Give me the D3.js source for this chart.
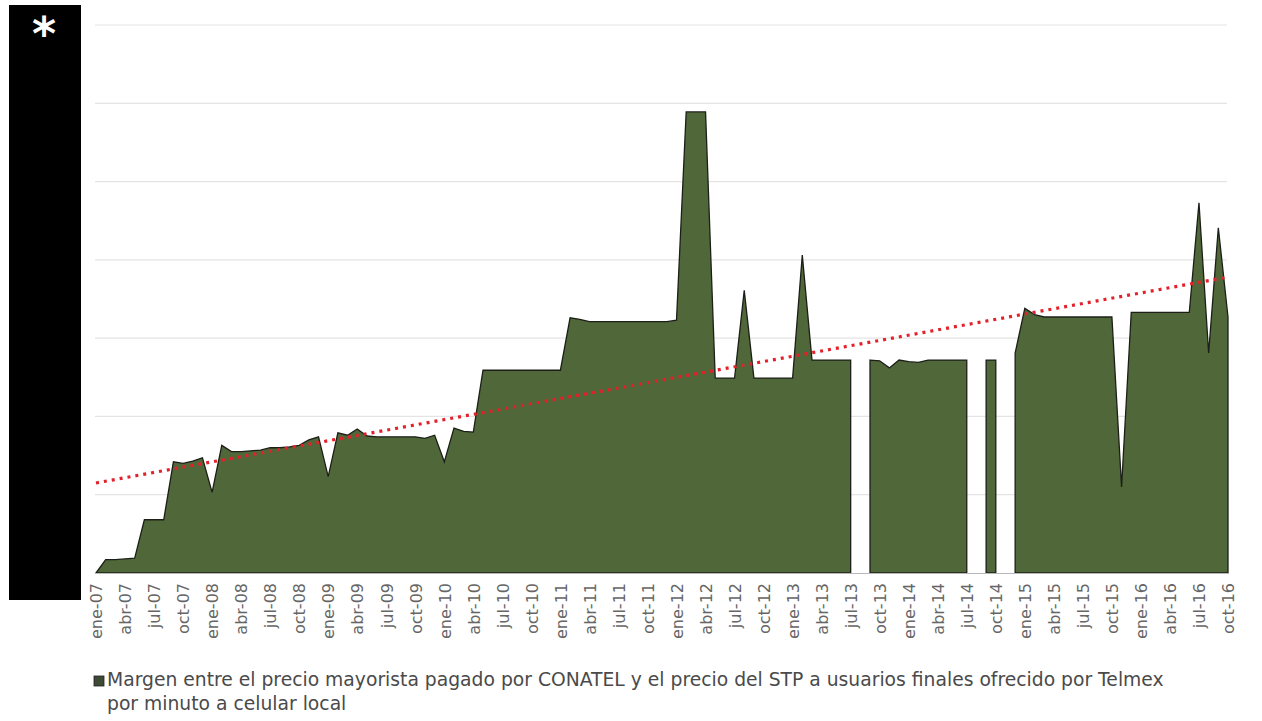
<!DOCTYPE html>
<html><head><meta charset="utf-8">
<script src="https://cdn.jsdelivr.net/npm/d3@7/dist/d3.min.js"></script>
<style>
html,body{margin:0;padding:0;background:#fff;}
svg{display:block;}
</style></head>
<body>
<svg id="chart" width="1262" height="721"></svg>
<script>
// ---- data ----
const monthNames = ["ene","feb","mar","abr","may","jun","jul","ago","sep","oct","nov","dic"];
const yearNames = ["07","08","09","10","11","12","13","14","15","16"];
const values2007 = [0, 0.017, 0.017, 0.018, 0.019, 0.068, 0.068, 0.068, 0.142, 0.140, 0.143, 0.147];
const values2008 = [0.103, 0.163, 0.155, 0.155, 0.156, 0.157, 0.160, 0.160, 0.161, 0.163, 0.170, 0.174];
const values2009 = [0.123, 0.179, 0.176, 0.184, 0.175, 0.174, 0.174, 0.174, 0.174, 0.174, 0.172, 0.176];
const values2010 = [0.142, 0.185, 0.181, 0.180, 0.259, 0.259, 0.259, 0.259, 0.259, 0.259, 0.259, 0.259];
const values2011 = [0.259, 0.326, 0.324, 0.321, 0.321, 0.321, 0.321, 0.321, 0.321, 0.321, 0.321, 0.321];
const values2012 = [0.323, 0.589, 0.589, 0.589, 0.249, 0.249, 0.249, 0.361, 0.249, 0.249, 0.249, 0.249];
const values2013 = [0.249, 0.406, 0.272, 0.272, 0.272, 0.272, 0.272, null, 0.272, 0.271, 0.262, 0.272];
const values2014 = [0.270, 0.269, 0.272, 0.272, 0.272, 0.272, 0.272, null, 0.272, 0.272, null, 0.281];
const values2015 = [0.338, 0.330, 0.327, 0.327, 0.327, 0.327, 0.327, 0.327, 0.327, 0.327, 0.110, 0.333];
const values2016 = [0.333, 0.333, 0.333, 0.333, 0.333, 0.333, 0.473, 0.281, 0.441, 0.327];
const trendValues = [0.115, 0.378];  // linear trend at first and last month
const yTicks = [0, 0.1, 0.2, 0.3, 0.4, 0.5, 0.6, 0.7];
const legendLine1 = "Margen entre el precio mayorista pagado por CONATEL y el precio del STP a usuarios finales ofrecido por Telmex";
const legendLine2 = "por minuto a celular local";

// ---- build ----
const values = [].concat(values2007, values2008, values2009, values2010, values2011,
                         values2012, values2013, values2014, values2015, values2016);
const categories = [];
yearNames.forEach(y => monthNames.forEach(m => categories.push(m + "-" + y)));
categories.length = values.length;
const data = categories.map((c, i) => ({cat: c, v: values[i]}));
const tickCats = categories.filter((c, i) => i % 3 === 0);

const svg = d3.select("#chart");
const x = d3.scalePoint().domain(categories).range([96, 1228]);
const y = d3.scaleLinear().domain([0, 0.7]).range([573, 25]);

// gridlines
svg.append("g").selectAll("line").data(yTicks.slice(1)).join("line")
  .attr("x1", 95).attr("x2", 1227)
  .attr("y1", d => y(d)).attr("y2", d => y(d))
  .attr("stroke", "#e4e4e4").attr("stroke-width", 1.2);

// area
const area = d3.area()
  .defined(d => d.v !== null)
  .x(d => x(d.cat)).y0(y(0)).y1(d => y(d.v));
svg.append("path").datum(data)
  .attr("d", area)
  .attr("fill", "#506839")
  .attr("stroke", "#1c1f18").attr("stroke-width", 1.3).attr("stroke-linejoin", "miter");

// baseline
svg.append("line").attr("x1", 95).attr("x2", 1229).attr("y1", y(0) + 0.5).attr("y2", y(0) + 0.5)
  .attr("stroke", "#b8b8b8").attr("stroke-width", 1);

// trend line
const trend = [{cat: categories[0], v: trendValues[0]}, {cat: categories[categories.length - 1], v: trendValues[1]}];
svg.append("path").datum(trend)
  .attr("d", d3.line().x(d => x(d.cat)).y(d => y(d.v)))
  .attr("fill", "none").attr("stroke", "#e3212b").attr("stroke-width", 3.2)
  .attr("stroke-dasharray", "3 5");

// x axis
const xAxis = svg.append("g").attr("transform", `translate(0,${y(0)})`)
  .call(d3.axisBottom(x).tickValues(tickCats).tickSize(0).tickPadding(0));
xAxis.select(".domain").remove();
xAxis.selectAll("text")
  .attr("transform", "rotate(-90)")
  .attr("x", -10).attr("y", 0).attr("dy", "0.36em")
  .style("text-anchor", "end")
  .attr("fill", "#666")
  .style("font-family", "'DejaVu Sans', sans-serif")
  .style("font-size", "16px");

// legend
const leg = svg.append("g");
leg.append("rect").attr("x", 94).attr("y", 676).attr("width", 10).attr("height", 10)
  .attr("fill", "#3e4a35").attr("stroke", "#222").attr("stroke-width", 0.8);
const t1 = leg.append("text").attr("x", 107).attr("y", 686).text(legendLine1)
  .attr("fill", "#4a4a4a").style("font-family", "'DejaVu Sans', sans-serif").style("font-size", "15px");
const w = t1.node().getComputedTextLength();
const fs = 15 * 1057 / w;
t1.style("font-size", fs + "px");
leg.append("text").attr("x", 107).attr("y", 710).text(legendLine2)
  .attr("fill", "#4a4a4a").style("font-family", "'DejaVu Sans', sans-serif").style("font-size", fs + "px");

// black cover box with asterisk
svg.append("rect").attr("x", 9).attr("y", 5).attr("width", 72).attr("height", 595).attr("fill", "#000");
svg.append("text").attr("x", 44).attr("y", 50).attr("text-anchor", "middle")
  .attr("fill", "#fff").style("font-family", "'DejaVu Sans', sans-serif")
  .style("font-weight", "bold").style("font-size", "46px").text("*");
</script>
</body></html>
